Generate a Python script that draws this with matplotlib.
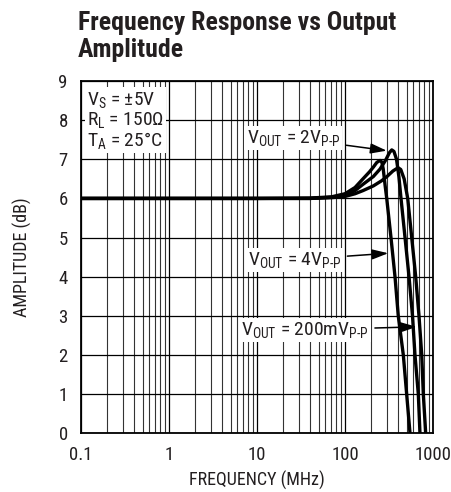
import numpy as np
import matplotlib
matplotlib.use('Agg')
import matplotlib.pyplot as plt
from matplotlib import font_manager
from matplotlib.ticker import FixedLocator, LogLocator, NullFormatter

# narrow face like the datasheet's Helvetica Condensed, if it is there
have = {f.name for f in font_manager.fontManager.ttflist}
face = next((n for n in ['Roboto Condensed', 'Archivo Narrow', 'Liberation Sans'] if n in have), 'DejaVu Sans')
k = 1.0 if face != 'Liberation Sans' and face != 'DejaVu Sans' else 0.8

plt.rcParams['font.family'] = [face, 'DejaVu Sans']
plt.rcParams['mathtext.fontset'] = 'custom'
plt.rcParams['mathtext.rm'] = face

# --- data (MHz, dB) ---
f_4v = [0.1, 1, 10, 40, 70, 100, 130, 160, 190, 210, 230, 250, 262, 272, 285, 298,
        333, 370, 403, 460, 502, 548]
a_4v = [6.0, 6.0, 6.0, 6.01, 6.04, 6.12, 6.28, 6.5, 6.68, 6.8, 6.92, 6.97, 6.93, 6.75,
        6.35, 6.0, 5.0, 4.0, 3.0, 2.0, 1.0, 0.0]

f_2v = [0.1, 1, 10, 40, 70, 100, 130, 160, 210, 250, 290, 320, 340, 360, 385, 410,
        433, 481, 534, 585, 624, 681, 711]
a_2v = [6.0, 6.0, 6.0, 6.0, 6.03, 6.08, 6.2, 6.36, 6.56, 6.75, 6.98, 7.17, 7.24, 7.2,
        7.0, 6.55, 6.0, 5.0, 4.0, 3.0, 2.0, 1.0, 0.0]

f_200m = [0.1, 1, 10, 40, 70, 100, 130, 160, 210, 260, 300, 350, 385, 404, 430, 470,
          516, 573, 636, 693, 745, 776, 826]
a_200m = [6.0, 6.0, 6.0, 6.0, 6.02, 6.05, 6.12, 6.2, 6.32, 6.45, 6.56, 6.7, 6.76, 6.78,
          6.74, 6.5, 6.0, 5.0, 4.0, 3.0, 2.0, 1.0, 0.0]

xticks = [0.1, 1, 10, 100, 1000]
xticklabels = ['0.1', '1', '10', '100', '1000']
yticks = list(range(0, 10))

fig = plt.figure(figsize=(4.52, 4.92), dpi=100)
ax = fig.add_axes([81/452, 1 - 433.3/492, 352/452, 352.3/492])

for f, a in [(f_4v, a_4v), (f_2v, a_2v), (f_200m, a_200m)]:
    ax.plot(f, a, color='black', lw=2.4, solid_joinstyle='round', zorder=3)

ax.set_xscale('log')
ax.set_xlim(0.1, 1000)
ax.set_ylim(0, 9)
ax.xaxis.set_major_locator(FixedLocator(xticks))
ax.set_xticklabels(xticklabels)
ax.xaxis.set_minor_locator(LogLocator(base=10, subs=np.arange(2, 10)))
ax.xaxis.set_minor_formatter(NullFormatter())
ax.set_yticks(yticks)

ax.grid(which='major', axis='both', color='black', lw=0.9)
ax.grid(which='minor', axis='x', color='#333333', lw=0.8)
ax.tick_params(which='both', length=0, labelsize=13.5 * k, pad=9.5, colors='#231f20')
for s in ax.spines.values():
    s.set_linewidth(1.3)

ax.set_xlabel('FREQUENCY (MHz)', fontsize=13 * k, color='#231f20', va='center')
ax.xaxis.set_label_coords(0.5, -(480 - 433.3) / 352)
ax.set_ylabel('AMPLITUDE (dB)', fontsize=13 * k, color='#231f20', va='center')
ax.yaxis.set_label_coords(-(81 - 22) / 352, 0.5)

box = dict(facecolor='white', edgecolor='none', pad=1.5)
fs = 14 * k

ax.text(0.118, 8.78, '$\\mathregular{V_S}$ = ±5V\n$\\mathregular{R_L}$ = 150Ω\n$\\mathregular{T_A}$ = 25°C',
        fontsize=fs, va='top', ha='left', linespacing=1.0, bbox=box, zorder=4, color='#231f20')

arrow = dict(arrowstyle='-|>,head_length=0.7,head_width=0.22', color='black', lw=1.1,
             shrinkA=3, shrinkB=0)
ax.annotate('$\\mathregular{V_{OUT}}$ = 2$\\mathregular{V_{P\\text{-}P}}$', xy=(298, 7.22), xytext=(7.6, 7.54),
            fontsize=fs, va='center', ha='left', bbox=box, arrowprops=arrow, zorder=5, color='#231f20')
ax.annotate('$\\mathregular{V_{OUT}}$ = 4$\\mathregular{V_{P\\text{-}P}}$', xy=(310, 4.6), xytext=(7.8, 4.43),
            fontsize=fs, va='center', ha='left', bbox=box, arrowprops=arrow, zorder=5, color='#231f20')
ax.annotate('$\\mathregular{V_{OUT}}$ = 200m$\\mathregular{V_{P\\text{-}P}}$', xy=(653, 2.72), xytext=(6.6, 2.64),
            fontsize=fs, va='center', ha='left', bbox=box, arrowprops=arrow, zorder=5, color='#231f20')

fig.text(78/452, 1 - 11/492, 'Frequency Response vs Output\nAmplitude', fontsize=18.5 * k,
         fontweight='bold', va='top', ha='left', linespacing=1.15, color='#231f20')

fig.savefig('out.png', dpi=100)
